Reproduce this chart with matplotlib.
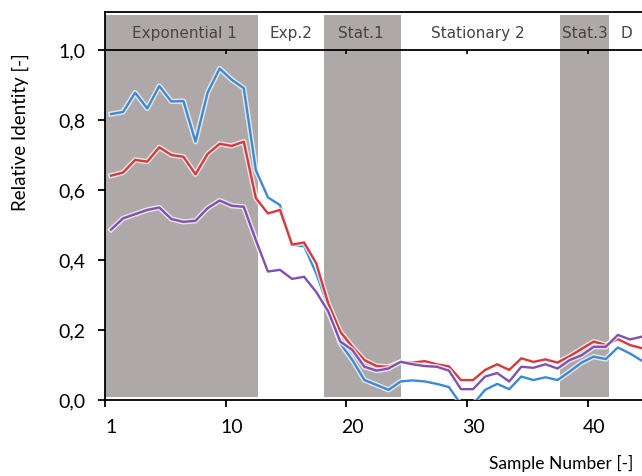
import numpy as np
import matplotlib.pyplot as plt
import matplotlib.patheffects as pe
from matplotlib.transforms import ScaledTranslation

# relative identity per sample (three series)
samples = np.arange(1, 46)
ident_a = [0.817, 0.823, 0.878, 0.833, 0.897, 0.853, 0.854, 0.738, 0.878, 0.947,
           0.915, 0.891, 0.657, 0.579, 0.557, 0.443, 0.440, 0.362, 0.266, 0.162,
           0.114, 0.057, 0.043, 0.029, 0.053, 0.056, 0.053, 0.046, 0.037, -0.012,
           -0.012, 0.029, 0.046, 0.031, 0.067, 0.057, 0.065, 0.057, 0.081, 0.107,
           0.124, 0.117, 0.150, 0.133, 0.112]
ident_b = [0.641, 0.650, 0.686, 0.681, 0.722, 0.700, 0.695, 0.645, 0.703, 0.732,
           0.726, 0.738, 0.577, 0.533, 0.543, 0.444, 0.450, 0.391, 0.276, 0.195,
           0.152, 0.114, 0.097, 0.095, 0.109, 0.107, 0.111, 0.102, 0.096, 0.057,
           0.057, 0.086, 0.102, 0.086, 0.119, 0.109, 0.116, 0.107, 0.125, 0.146,
           0.167, 0.157, 0.174, 0.157, 0.148]
ident_c = [0.487, 0.519, 0.531, 0.543, 0.550, 0.517, 0.509, 0.512, 0.548, 0.570,
           0.555, 0.552, 0.457, 0.367, 0.372, 0.346, 0.352, 0.309, 0.253, 0.167,
           0.143, 0.095, 0.084, 0.090, 0.109, 0.102, 0.097, 0.095, 0.084, 0.031,
           0.031, 0.067, 0.077, 0.053, 0.095, 0.092, 0.102, 0.090, 0.114, 0.128,
           0.152, 0.152, 0.186, 0.173, 0.181]

# growth phases (grey = shaded phase)
phase_names = ["Exponential 1", "Exp.2", "Stat.1", "Stationary 2", "Stat.3", "D"]
phase_label_x = [7.1, 15.9, 21.7, 31.4, 40.3, 43.7]
shaded_phases = [(0.5, 13.2), (18.65, 25.0), (38.2, 42.3)]

x_tick_pos = [0.5, 10.5, 20.5, 30.5, 40.5]
x_tick_labels = ["1", "10", "20", "30", "40"]
y_ticks = [0.0, 0.2, 0.4, 0.6, 0.8, 1.0]
y_tick_labels = ["0,0", "0,2", "0,4", "0,6", "0,8", "1,0"]

plt.rcParams["font.family"] = ["Lato", "DejaVu Sans"]

fig = plt.figure(figsize=(6.42, 4.76), dpi=100)
ax = fig.add_axes([105 / 642, 76 / 476, 543 / 642, 388 / 476])
ax.set_xlim(0.5, 45.5)
ax.set_ylim(0, 388 / 350)

for x0, x1 in shaded_phases:
    ax.axvspan(x0, x1, ymin=0.008, ymax=0.992, color="#aea9a8", lw=0, zorder=0)

for name, xp in zip(phase_names, phase_label_x):
    ax.text(xp, 1.046, name, ha="center", va="center", fontsize=11,
            color="#454545", family="DejaVu Sans")

# line at 1,0 separating the phase strip, with small ticks
ax.axhline(1.0, color="black", lw=1.3, zorder=3)
ax.vlines(x_tick_pos, 0.99, 1.0, color="black", lw=1.2, zorder=3)

halo = [pe.Stroke(linewidth=3.8, foreground="white", alpha=0.7), pe.Normal()]
for vals, col in [(ident_a, "#3a8ad8"), (ident_b, "#d63a3c"), (ident_c, "#8150b4")]:
    ax.plot(samples, vals, color=col, lw=1.7, path_effects=halo, zorder=4)

for side in ["left", "bottom", "top"]:
    ax.spines[side].set_linewidth(1.3)
ax.spines["right"].set_visible(False)

ax.set_xticks(x_tick_pos)
ax.set_xticklabels(x_tick_labels, fontsize=14)
ax.set_yticks(y_ticks)
ax.set_yticklabels(y_tick_labels, fontsize=14)
ax.tick_params(axis="both", direction="out", length=5, width=1.3, pad=9,
               colors="black")
shift = ScaledTranslation(6 / 100, 0, fig.dpi_scale_trans)
for lab in ax.get_xticklabels():
    lab.set_transform(lab.get_transform() + shift)

fig.text(20 / 642, 1 - 132 / 476, "Relative Identity [-]", rotation=90,
         ha="center", va="center", fontsize=13.5)
fig.text(633 / 642, 1 - 463 / 476, "Sample Number [-]", ha="right",
         va="center", fontsize=12.5)

fig.savefig("out.png", dpi=100)
